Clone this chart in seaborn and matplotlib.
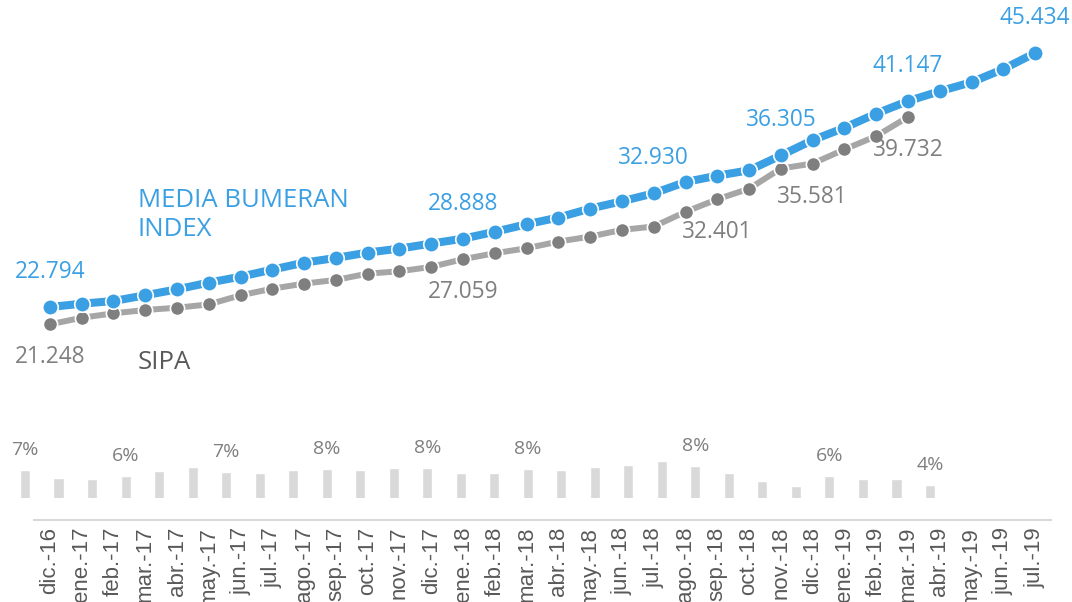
import matplotlib
matplotlib.use("Agg")
import matplotlib.pyplot as plt
import seaborn as sns
import pandas as pd

months = ["dic.-16", "ene.-17", "feb.-17", "mar.-17", "abr.-17", "may.-17", "jun.-17", "jul.-17",
          "ago.-17", "sep.-17", "oct.-17", "nov.-17", "dic.-17", "ene.-18", "feb.-18", "mar.-18",
          "abr.-18", "may.-18", "jun.-18", "jul.-18", "ago.-18", "sep.-18", "oct.-18", "nov.-18",
          "dic.-18", "ene.-19", "feb.-19", "mar.-19", "abr.-19", "may.-19", "jun.-19", "jul.-19"]

bumeran = [22.794, 23.09, 23.33, 23.84, 24.37, 24.97, 25.50, 26.13, 26.75, 27.17, 27.65, 28.00,
           28.45, 28.888, 29.50, 30.17, 30.77, 31.57, 32.22, 32.930, 33.94, 34.50, 34.98, 36.305,
           37.67, 38.77, 40.04, 41.147, 42.03, 42.83, 44.01, 45.434]

sipa = [21.248, 21.84, 22.23, 22.53, 22.73, 23.03, 23.84, 24.43, 24.88, 25.21, 25.77, 25.98,
        26.37, 27.059, 27.59, 28.03, 28.63, 29.07, 29.67, 29.97, 31.28, 32.401, 33.34, 35.14,
        35.581, 36.84, 38.03, 39.732]

growth_pct = [7.4, 5.7, 5.4, 6.1, 7.3, 8.1, 7.0, 6.9, 7.6, 7.7, 7.4, 7.9, 7.9, 6.9, 6.8, 7.7,
              7.6, 8.2, 8.6, 9.5, 8.4, 6.7, 5.0, 3.9, 6.1, 5.4, 5.5, 4.0]

bumeran_label_idx = [0, 13, 19, 23, 27, 31]
sipa_label_idx = [0, 13, 21, 24, 27]
pct_label_idx = [0, 3, 6, 9, 12, 15, 20, 24, 27]

BLUE = "#3BA0E3"
GRAY_LINE = "#A6A6A6"
GRAY_MARK = "#7F7F7F"
GRAY_TEXT = "#7F7F7F"
DARK_TEXT = "#595959"
BAR = "#D9D9D9"

sns.set_theme(style="white")
plt.rcParams["font.family"] = ["Open Sans", "DejaVu Sans"]

W, H = 1072, 602
fig = plt.figure(figsize=(W / 100, H / 100), dpi=100)


def px_axes(l, t, r, b):
    return fig.add_axes([l / W, 1 - b / H, (r - l) / W, (b - t) / H])


# ---- bars (separate small chart) ----
axb = px_axes(8.25, 420, 946.75, 498)
axb.patch.set_visible(False)
bar_df = pd.DataFrame({"i": list(range(len(growth_pct))), "v": growth_pct})
sns.barplot(data=bar_df, x="i", y="v", ax=axb, color=BAR, width=0.3, saturation=1)
axb.set_xlim(-0.5, len(growth_pct) - 0.5)
axb.set_ylim(1.0, 1.0 + 78 / 4.3)
axb.axis("off")
for i in pct_label_idx:
    axb.annotate(f"{growth_pct[i]:.0f}%", (i, growth_pct[i]), xytext=(0, 15),
                 textcoords="offset pixels", ha="center", va="baseline",
                 fontsize=14, color=GRAY_TEXT, annotation_clip=False)

# ---- lines ----
ax = px_axes(34, 0, 1051, 520)
ax.patch.set_visible(False)
df_b = pd.DataFrame({"x": list(range(len(bumeran))), "y": bumeran})
df_s = pd.DataFrame({"x": list(range(len(sipa))), "y": sipa})

sns.lineplot(data=df_s, x="x", y="y", ax=ax, color=GRAY_LINE, linewidth=4.3, zorder=2)
sns.scatterplot(data=df_s, x="x", y="y", ax=ax, color=GRAY_MARK, s=105,
                edgecolor="white", linewidth=1.2, zorder=3)
sns.lineplot(data=df_b, x="x", y="y", ax=ax, color=BLUE, linewidth=5.8, zorder=4)
sns.scatterplot(data=df_b, x="x", y="y", ax=ax, color=BLUE, s=125,
                edgecolor="white", linewidth=1.2, zorder=5)

ax.set_xlim(-0.5, len(months) - 0.5)
ax.set_ylim(3.81, 50.16)
ax.set_xticks(range(len(months)))
ax.set_xticklabels(months, rotation=90, fontsize=16, color=DARK_TEXT,
                   family=["Liberation Sans", "DejaVu Sans"])
ax.tick_params(axis="x", length=0, pad=5)
ax.set_yticks([])
ax.set_xlabel("")
ax.set_ylabel("")
for s in ["top", "left", "right"]:
    ax.spines[s].set_visible(False)
ax.spines["bottom"].set_color(BAR)
ax.spines["bottom"].set_linewidth(1.5)

for i in bumeran_label_idx:
    ax.annotate(f"{bumeran[i]:.3f}", (i, bumeran[i]), xytext=(0, 35),
                textcoords="offset pixels", ha="center", va="center",
                fontsize=16.3, color=BLUE, annotation_clip=False)
for i in sipa_label_idx:
    ax.annotate(f"{sipa[i]:.3f}", (i, sipa[i]), xytext=(0, -33),
                textcoords="offset pixels", ha="center", va="center",
                fontsize=16.3, color=GRAY_TEXT, annotation_clip=False)

fig.text(138 / W, 1 - 207 / H, "MEDIA BUMERAN", color=BLUE, fontsize=18.5,
         ha="left", va="baseline")
fig.text(138 / W, 1 - 236 / H, "INDEX", color=BLUE, fontsize=18.5,
         ha="left", va="baseline")
fig.text(138 / W, 1 - 369 / H, "SIPA", color=DARK_TEXT, fontsize=18.5,
         ha="left", va="baseline")

fig.savefig("out.png", dpi=100)
